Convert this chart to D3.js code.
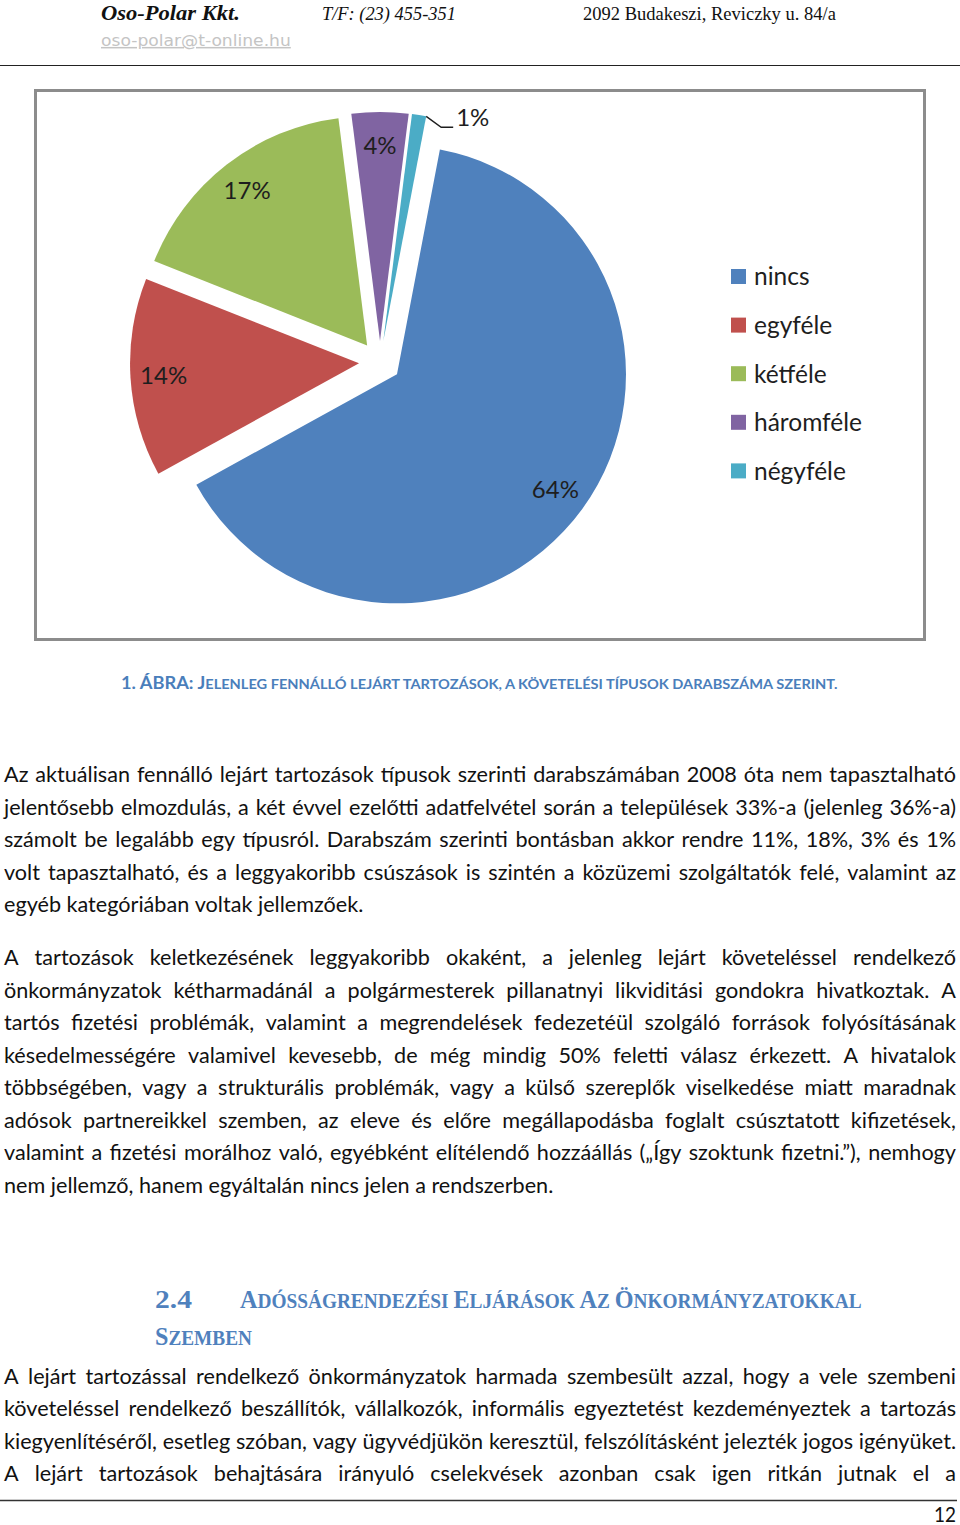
<!DOCTYPE html>
<html><head><meta charset="utf-8">
<script src="https://cdn.jsdelivr.net/npm/d3@7"></script>
<style>html,body{margin:0;padding:0;background:#fff;}svg{display:block;}</style>
</head><body>
<script>
// ---------- data ----------
const categories = ["nincs", "egyféle", "kétféle", "háromféle", "négyféle"];
const values = [64, 14, 17, 4, 1];
const valueLabels = ["64%", "14%", "17%", "4%", "1%"];
const sliceColors = ["#4F81BD", "#C0504D", "#9BBB59", "#8064A2", "#4BACC6"];

const headerCompany = "Oso-Polar Kkt.";
const headerPhone = "T/F: (23) 455-351";
const headerAddress = "2092 Budakeszi, Reviczky u. 84/a";
const headerEmail = "oso-polar@t-online.hu";

const captionParts = [["1. ÁBRA: J", true], ["ELENLEG FENNÁLLÓ LEJÁRT TARTOZÁSOK, A KÖVETELÉSI TÍPUSOK DARABSZÁMA SZERINT.", false]];

const para1 = [
  "Az aktuálisan fennálló lejárt tartozások típusok szerinti darabszámában 2008 óta nem tapasztalható",
  "jelentősebb elmozdulás, a két évvel ezelőtti adatfelvétel során a települések 33%-a (jelenleg 36%-a)",
  "számolt be legalább egy típusról. Darabszám szerinti bontásban akkor rendre 11%, 18%, 3% és 1%",
  "volt tapasztalható, és a leggyakoribb csúszások is szintén a közüzemi szolgáltatók felé, valamint az",
  "egyéb kategóriában voltak jellemzőek."
];
const para2 = [
  "A tartozások keletkezésének leggyakoribb okaként, a jelenleg lejárt követeléssel rendelkező",
  "önkormányzatok kétharmadánál a polgármesterek pillanatnyi likviditási gondokra hivatkoztak. A",
  "tartós fizetési problémák, valamint a megrendelések fedezetéül szolgáló források folyósításának",
  "késedelmességére valamivel kevesebb, de még mindig 50% feletti válasz érkezett. A hivatalok",
  "többségében, vagy a strukturális problémák, vagy a külső szereplők viselkedése miatt maradnak",
  "adósok partnereikkel szemben, az eleve és előre megállapodásba foglalt csúsztatott kifizetések,",
  "valamint a fizetési morálhoz való, egyébként elítélendő hozzáállás („Így szoktunk fizetni.”), nemhogy",
  "nem jellemző, hanem egyáltalán nincs jelen a rendszerben."
];
const para3 = [
  "A lejárt tartozással rendelkező önkormányzatok harmada szembesült azzal, hogy a vele szembeni",
  "követeléssel rendelkező beszállítók, vállalkozók, informális egyeztetést kezdeményeztek a tartozás",
  "kiegyenlítéséről, esetleg szóban, vagy ügyvédjükön keresztül, felszólításként jelezték jogos igényüket.",
  "A lejárt tartozások behajtására irányuló cselekvések azonban csak igen ritkán jutnak el a"
];
const headingNumber = "2.4";
const headingLine1 = [["A", true], ["DÓSSÁGRENDEZÉSI ", false], ["E", true], ["LJÁRÁSOK ", false], ["A", true], ["Z ", false], ["Ö", true], ["NKORMÁNYZATOKKAL", false]];
const headingLine2 = [["S", true], ["ZEMBEN", false]];
const pageNumber = "12";

// ---------- page ----------
const W = 960, H = 1525;
const svg = d3.select("body").append("svg").attr("width", W).attr("height", H);
svg.append("rect").attr("width", W).attr("height", H).attr("fill", "#fff");

const bodyFont = "Lato, 'Open Sans', sans-serif";
const measurer = svg.append("text").attr("visibility", "hidden").attr("font-family", bodyFont);
function measure(str, size) {
  measurer.attr("font-size", size).text(str);
  return measurer.node().getComputedTextLength();
}

// horizontally fitted text (scale transform instead of textLength)
function fitText(parent, x, y, width, attrs, parts, bigSize, smallSize) {
  const g = parent.append("g");
  const t = g.append("text");
  Object.entries(attrs).forEach(([k, v]) => t.attr(k, v));
  if (typeof parts === "string") t.attr("font-size", bigSize).text(parts);
  else parts.forEach(p => t.append("tspan").attr("font-size", p[1] ? bigSize : smallSize).text(p[0]));
  const nat = t.node().getComputedTextLength();
  const sx = width / nat;
  g.attr("transform", `translate(${x},${y}) scale(${sx},1)`);
  return t;
}

// header
fitText(svg, 101, 20, 139, { "font-family": "'Liberation Serif', serif", "font-weight": "bold", "font-style": "italic", fill: "#111" }, headerCompany, 21);
fitText(svg, 322, 20, 134, { "font-family": "'Liberation Serif', serif", "font-style": "italic", fill: "#111" }, headerPhone, 19);
fitText(svg, 583, 20, 253, { "font-family": "'Liberation Serif', serif", fill: "#111" }, headerAddress, 19);
fitText(svg, 101, 46, 190, { "font-family": "'DejaVu Sans', sans-serif", fill: "#c4c4c4", "text-decoration": "underline" }, headerEmail, 15);
svg.append("line").attr("x1", 0).attr("x2", W).attr("y1", 65.5).attr("y2", 65.5)
  .attr("stroke", "#222").attr("stroke-width", 1.2);

// ---------- chart ----------
svg.append("rect").attr("x", 35.5).attr("y", 90.5).attr("width", 889).attr("height", 549)
  .attr("fill", "#fff").attr("stroke", "#8c8c8c").attr("stroke-width", 3);

const cx = 380, cy = 362, R = 229, explode = 21;
const color = d3.scaleOrdinal(categories, sliceColors);
const startA = 10.8 * Math.PI / 180;
const pie = d3.pie().sort(null).value(d => d.v).startAngle(startA).endAngle(startA + 2 * Math.PI);
const arcs = pie(categories.map((c, i) => ({ c, v: values[i], l: valueLabels[i] })));
const arc = d3.arc().innerRadius(0).outerRadius(R);
const pieG = svg.append("g").attr("transform", `translate(${cx},${cy})`);
function offset(a, r) {
  const m = (a.startAngle + a.endAngle) / 2;
  return [Math.sin(m) * r, -Math.cos(m) * r];
}
const sl = pieG.selectAll("g.slice").data(arcs).join("g").attr("class", "slice")
  .attr("transform", d => { const o = offset(d, explode); return `translate(${o[0]},${o[1]})`; });
sl.append("path").attr("d", arc).attr("fill", d => color(d.data.c));

const labelFont = "Lato, 'Open Sans', sans-serif";
sl.filter(d => d.data.v >= 4).append("text")
  .attr("transform", d => { const o = offset(d, R * 0.855); return `translate(${o[0]},${o[1]})`; })
  .attr("text-anchor", "middle").attr("dy", "0.36em")
  .attr("font-family", labelFont).attr("font-size", 24).attr("fill", "#1e1e1e")
  .text(d => d.data.l);
// small slice: leader line + outside label
sl.filter(d => d.data.v < 4).each(function (d) {
  const g = d3.select(this);
  const a = d.endAngle;
  const p0 = [Math.sin(a) * R, -Math.cos(a) * R];
  const p1 = [p0[0] + 15, p0[1] + 11];
  const p2 = [p1[0] + 12, p1[1]];
  g.append("path").attr("d", d3.line()([p0, p1, p2])).attr("fill", "none")
    .attr("stroke", "#1e1e1e").attr("stroke-width", 1.4);
  g.append("text").attr("x", p2[0] + 3).attr("y", p2[1]).attr("dy", "-0.05em")
    .attr("font-family", labelFont).attr("font-size", 24).attr("fill", "#1e1e1e").text(d.data.l);
});

// legend
const legend = svg.append("g").attr("transform", "translate(731,269)");
const li = legend.selectAll("g").data(categories).join("g")
  .attr("transform", (d, i) => `translate(0,${i * 48.6})`);
li.append("rect").attr("width", 15).attr("height", 15).attr("fill", d => color(d));
li.append("text").attr("x", 23).attr("y", 7.5).attr("dy", "0.36em")
  .attr("font-family", labelFont).attr("font-size", 24.5).attr("fill", "#1e1e1e").text(d => d);

// caption
fitText(svg, 121, 689, 717, { "font-family": labelFont, "font-weight": "bold", fill: "#4A7EBB" }, captionParts, 17, 13.6);

// ---------- body text ----------
const refW = 359; // width of reference last line of first paragraph
const bodySize = 20 * refW / measure(para1[4], 20);
const left = 4, right = 956;
function drawPara(lines, y0, step, lastJustified) {
  lines.forEach((line, i) => {
    const y = y0 + i * step;
    const justify = i < lines.length - 1 || lastJustified;
    const words = line.split(" ");
    const widths = words.map(w => measure(w, bodySize));
    const spaceW = measure("a a", bodySize) - measure("aa", bodySize);
    const total = d3.sum(widths);
    const gap = justify && words.length > 1 ? (right - left - total) / (words.length - 1) : spaceW;
    const t = svg.append("text").attr("y", y).attr("font-family", bodyFont)
      .attr("font-size", bodySize).attr("fill", "#111");
    let x = left;
    words.forEach((w, j) => {
      t.append("tspan").attr("x", x).text(j < words.length - 1 ? w + " " : w);
      x += widths[j] + gap;
    });
  });
}
drawPara(para1, 782, 32.5, false);
drawPara(para2, 965, 32.5, false);
drawPara(para3, 1384, 32.3, true);

// heading
const headFont = "'Liberation Serif', 'DejaVu Serif', serif";
const headColor = "#4F81BD";
const headAttrs = { "font-family": headFont, "font-weight": "bold", fill: headColor };
fitText(svg, 155, 1308, 37, headAttrs, headingNumber, 25);
fitText(svg, 240, 1308, 622, headAttrs, headingLine1, 25, 20);
fitText(svg, 155, 1345, 97, headAttrs, headingLine2, 25, 20);

// footer
svg.append("line").attr("x1", 0).attr("x2", 957).attr("y1", 1500.5).attr("y2", 1500.5)
  .attr("stroke", "#333").attr("stroke-width", 1.5);
fitText(svg, 934, 1522, 22, { "font-family": bodyFont, fill: "#111" }, pageNumber, 21);
</script>
</body></html>
